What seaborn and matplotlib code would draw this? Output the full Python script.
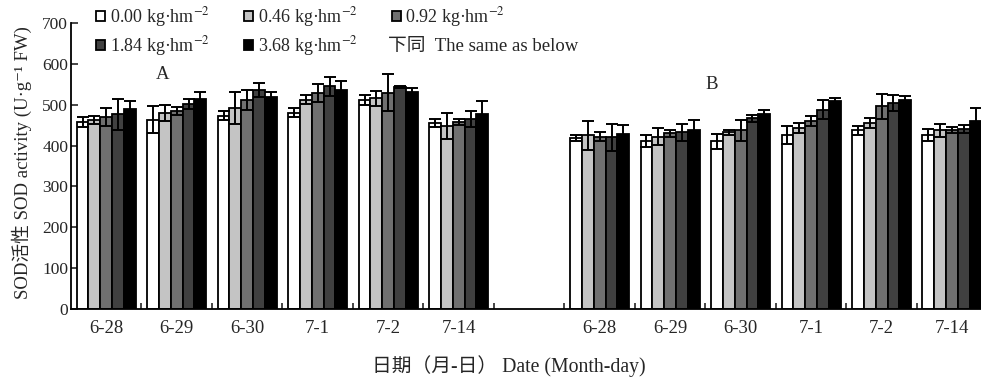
import numpy as np
import pandas as pd
import matplotlib
matplotlib.use("Agg")
import matplotlib.pyplot as plt
import seaborn as sns

dates = ["6-28", "6-29", "6-30", "7-1", "7-2", "7-14"]
doses = ["0.00", "0.46", "0.92", "1.84", "3.68"]
colors = ["#ffffff", "#c4c4c4", "#707070", "#404040", "#000000"]

# Panel A means (per dose, across dates)
a_000 = [457, 463, 473, 480, 512, 455]
a_046 = [463, 480, 492, 512, 516, 448]
a_092 = [469, 485, 511, 529, 529, 457]
a_184 = [477, 502, 537, 545, 543, 465]
a_368 = [489, 514, 520, 537, 530, 478]
# Panel A errors
ea_000 = [12, 33, 11, 11, 12, 9]
ea_046 = [9, 20, 39, 11, 18, 31]
ea_092 = [22, 9, 24, 22, 45, 7]
ea_184 = [38, 12, 17, 23, 2, 20]
ea_368 = [20, 17, 10, 21, 11, 32]

# Panel B means
b_000 = [418, 412, 410, 426, 438, 426]
b_046 = [425, 422, 432, 443, 455, 437]
b_092 = [422, 430, 437, 461, 496, 438]
b_184 = [420, 432, 467, 488, 504, 440]
b_368 = [429, 438, 478, 508, 511, 461]
# Panel B errors
eb_000 = [7, 15, 18, 22, 11, 15]
eb_046 = [35, 20, 5, 13, 12, 15]
eb_092 = [10, 8, 26, 12, 30, 8]
eb_184 = [34, 20, 9, 23, 20, 10]
eb_368 = [22, 25, 10, 8, 10, 32]

means_a = [a_000, a_046, a_092, a_184, a_368]
errs_a = [ea_000, ea_046, ea_092, ea_184, ea_368]
means_b = [b_000, b_046, b_092, b_184, b_368]
errs_b = [eb_000, eb_046, eb_092, eb_184, eb_368]

rows = []
for panel, means, errs in (("A", means_a, errs_a), ("B", means_b, errs_b)):
    for d, mlist, elist in zip(doses, means, errs):
        for date, m, e in zip(dates, mlist, elist):
            rows.append({"slot": f"{panel}|{date}", "dose": d, "value": m, "err": e})
df = pd.DataFrame(rows)
order = [f"A|{d}" for d in dates] + ["gap"] + [f"B|{d}" for d in dates]

sns.set_style("ticks")
plt.rcParams["font.family"] = ["Liberation Serif", "DejaVu Serif", "Noto Sans CJK SC"]
plt.rcParams["mathtext.fontset"] = "stix"
plt.rcParams["font.size"] = 12

fig = plt.figure(figsize=(9.81, 3.83), dpi=100)
ax = fig.add_axes([71 / 981, 1 - 309 / 383, 1 - 71 / 981, (309 - 23) / 383])

sns.barplot(data=df, x="slot", y="value", hue="dose", order=order, hue_order=doses,
            palette=colors, width=0.84, edgecolor="black", linewidth=1.3,
            errorbar=None, saturation=1, ax=ax)

# error bars at seaborn's bar centres
lookup = df.set_index(["slot", "dose"])["err"]
for cont, d in zip(ax.containers, doses):
    for bar in cont:
        h = bar.get_height()
        if not np.isfinite(h) or h == 0:
            continue
        xc = bar.get_x() + bar.get_width() / 2
        slot = order[int(round(xc))]
        e = lookup[(slot, d)]
        ax.errorbar(xc, h, yerr=e, fmt="none", ecolor="black", elinewidth=1.4,
                    capsize=4.5, capthick=1.4, zorder=5)

leg = ax.get_legend()
handles = leg.legend_handles
leg.remove()
labels = [f"{d} kg·hm$^{{-2}}$" for d in doses]
idx = [0, 3, 1, 4, 2]
fig.legend([handles[i] for i in idx], [labels[i] for i in idx], ncol=3,
           loc="upper left", bbox_to_anchor=(80 / 981, 1 + 11 / 383), frameon=False,
           handlelength=0.5, handleheight=0.5, handletextpad=0.25,
           columnspacing=1.9, labelspacing=0.27, fontsize=13)
fig.text(388 / 981, 1 - 46 / 383, "下同  The same as below", fontsize=13.5,
         va="center", ha="left")

ax.set_xlim(-0.5, 12.41)
ax.set_ylim(0, 700)
ax.set_yticks(range(0, 701, 100))
ax.set_xticks(range(len(order)))
ax.set_xticklabels(dates + [""] + dates)
ax.set_xticks(np.arange(0.5, 12, 1), minor=True)
ax.tick_params(axis="x", which="major", length=0, pad=8, labelsize=13.5)
ax.tick_params(axis="x", which="minor", direction="in", length=4, width=1.2)
ax.tick_params(axis="y", direction="in", length=5, width=1.2, labelsize=12.5, pad=2)
ax.set_xlabel("")
ax.set_ylabel("")
sns.despine(ax=ax)
for s in ("left", "bottom"):
    ax.spines[s].set_linewidth(1.3)
    ax.spines[s].set_color("black")

ax.text(0.8, 575, "A", fontsize=13.5, ha="center", va="center")
ax.text(8.59, 550, "B", fontsize=13.5, ha="center", va="center")

fig.text(22 / 981, 1 - 163 / 383, "SOD活性 SOD activity (U·g⁻¹ FW)",
         rotation=90, ha="center", va="center", fontsize=13.5)
fig.text(509 / 981, 1 - 366 / 383, "日期（月-日） Date (Month-day)",
         ha="center", va="center", fontsize=14.2)

fig.savefig("out.png", dpi=100)
